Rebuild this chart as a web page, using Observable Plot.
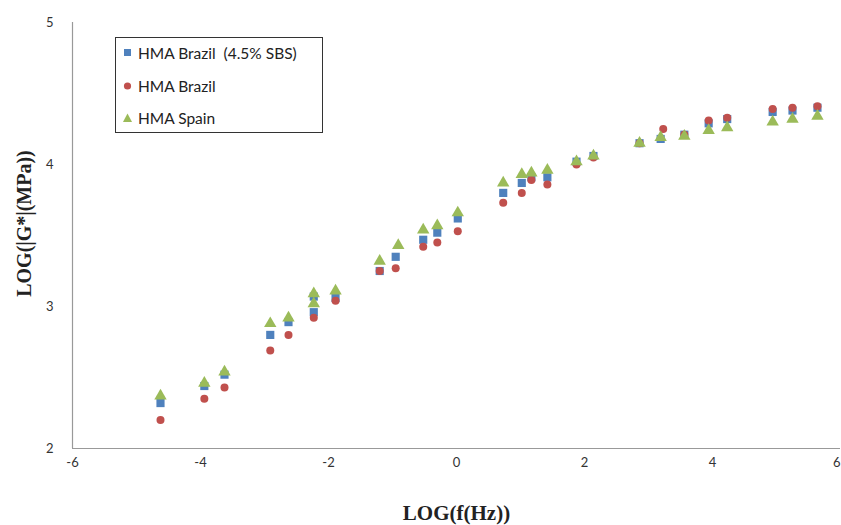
<!DOCTYPE html>
<html>
<head>
<meta charset="utf-8">
<script src="https://cdn.jsdelivr.net/npm/d3@7"></script>
<script src="https://cdn.jsdelivr.net/npm/@observablehq/plot@0.6"></script>
<style>
  html, body { margin: 0; padding: 0; background: #fff; }
  #wrap { position: relative; width: 841px; height: 525px; overflow: hidden; }
  #legend { position: absolute; left: 115px; top: 37px; width: 208px; height: 96px;
    border: 1px solid #333; background: #fff; font-family: Lato, "Open Sans", sans-serif;
    font-size: 15.5px; color: #222; box-sizing: border-box; }
  #legend .row { position: absolute; left: 7px; display: flex; align-items: center; white-space: pre; }
  #legend svg { margin-right: 5px; }
</style>
</head>
<body>
<div id="wrap"></div>
<script>
const seriesNames = ["HMA Brazil  (4.5% SBS)", "HMA Brazil", "HMA Spain"];
const seriesColors = ["#4F81BD", "#C0504D", "#9BBB59"];
const seriesSymbols = ["square", "circle", "triangle"];

const blueX = [-4.625, -3.94, -3.625, -2.91, -2.625, -2.23, -2.23, -1.89, -1.20, -0.95, -0.52, -0.30, 0.02, 0.73, 1.02, 1.17, 1.42, 1.875, 2.14, 2.86, 3.19, 3.56, 3.94, 4.23, 4.94, 5.25, 5.64];
const blueY = [2.32, 2.44, 2.52, 2.80, 2.89, 3.07, 2.96, 3.06, 3.25, 3.35, 3.47, 3.52, 3.62, 3.80, 3.87, 3.91, 3.91, 4.02, 4.06, 4.15, 4.18, 4.21, 4.29, 4.32, 4.37, 4.38, 4.40];

const redX = [-4.625, -3.94, -3.625, -2.91, -2.625, -2.23, -1.89, -1.20, -0.95, -0.52, -0.30, 0.02, 0.73, 1.02, 1.17, 1.42, 1.875, 2.14, 2.86, 3.23, 3.56, 3.94, 4.23, 4.94, 5.25, 5.64];
const redY = [2.20, 2.35, 2.43, 2.69, 2.80, 2.92, 3.04, 3.25, 3.27, 3.42, 3.45, 3.53, 3.73, 3.80, 3.89, 3.86, 4.00, 4.05, 4.15, 4.25, 4.21, 4.31, 4.33, 4.39, 4.40, 4.41];

const greenX = [-4.625, -3.94, -3.625, -2.91, -2.625, -2.23, -2.23, -1.89, -1.20, -0.91, -0.52, -0.30, 0.02, 0.73, 1.02, 1.17, 1.42, 1.875, 2.14, 2.86, 3.19, 3.56, 3.94, 4.23, 4.94, 5.25, 5.64];
const greenY = [2.37, 2.46, 2.54, 2.88, 2.92, 3.09, 3.02, 3.11, 3.32, 3.43, 3.54, 3.57, 3.66, 3.87, 3.93, 3.94, 3.96, 4.02, 4.06, 4.15, 4.19, 4.20, 4.24, 4.26, 4.30, 4.32, 4.34];

const xTicks = [-6, -4, -2, 0, 2, 4, 6];
const yTicks = [2, 3, 4, 5];
const xLabel = "LOG(f(Hz))";
const yLabel = "LOG(|G*|(MPa))";

const toRows = (xs, ys) => xs.map((x, i) => ({x, y: ys[i]}));
const sets = [toRows(blueX, blueY), toRows(redX, redY), toRows(greenX, greenY)];

const tickFont = "Lato, 'Open Sans', sans-serif";
const serif = "'Liberation Serif', 'Times New Roman', serif";
const fmt = d => String(d);

const chart = Plot.plot({
  width: 841,
  height: 525,
  marginLeft: 72,
  marginRight: 1,
  marginTop: 22,
  marginBottom: 77,
  style: { background: "#fff", fontFamily: tickFont, fontSize: "13px", color: "#333" },
  x: { domain: [-6, 6] },
  y: { domain: [2, 5] },
  marks: [
    Plot.ruleX([-6], { stroke: "#999", strokeWidth: 1.2 }),
    Plot.ruleY([2], { stroke: "#999", strokeWidth: 1.2 }),
    Plot.axisX(xTicks.slice(0, -1), { tickSize: 0, tickPadding: 9, label: null, fontSize: 13, fill: "#333", tickFormat: fmt }),
    Plot.axisX(xTicks.slice(-1), { tickSize: 0, tickPadding: 9, label: null, fontSize: 13, fill: "#333", tickFormat: fmt, textAnchor: "end" }),
    Plot.axisY(yTicks, { tickSize: 0, tickPadding: 19, label: null, fontSize: 13, fill: "#333", tickFormat: fmt }),
    ...sets.map((rows, i) => Plot.dot(rows, {
      x: "x", y: "y", symbol: () => seriesSymbols[i], fill: seriesColors[i], stroke: "none",
      r: i === 1 ? 4 : 4.6
    })),
    Plot.text([xLabel], { frameAnchor: "bottom", lineAnchor: "middle", textAnchor: "middle", dy: 65, fontFamily: serif, fontWeight: "bold", fontSize: 21, fill: "#222" }),
    Plot.text([yLabel], { frameAnchor: "left", lineAnchor: "middle", textAnchor: "middle", dx: -48, dy: -12, rotate: -90, fontFamily: serif, fontWeight: "bold", fontSize: 20, fill: "#222" })
  ]
});

const wrap = document.getElementById("wrap");
wrap.appendChild(chart);

// legend
const legend = document.createElement("div");
legend.id = "legend";
const rowTops = [6, 39, 71];
const swatch = (sym, color) => {
  if (sym === "square") return `<svg width="10" height="10"><rect x="1" y="1" width="7" height="7" fill="${color}"/></svg>`;
  if (sym === "circle") return `<svg width="10" height="10"><circle cx="4.5" cy="5" r="3.6" fill="${color}"/></svg>`;
  return `<svg width="10" height="10"><path d="M4.5 0.5 L9 9 L0 9 Z" fill="${color}"/></svg>`;
};
seriesNames.forEach((name, i) => {
  const row = document.createElement("div");
  row.className = "row";
  row.style.top = rowTops[i] + "px";
  row.innerHTML = swatch(seriesSymbols[i], seriesColors[i]) + `<span>${name}</span>`;
  legend.appendChild(row);
});
wrap.appendChild(legend);
</script>
</body>
</html>
